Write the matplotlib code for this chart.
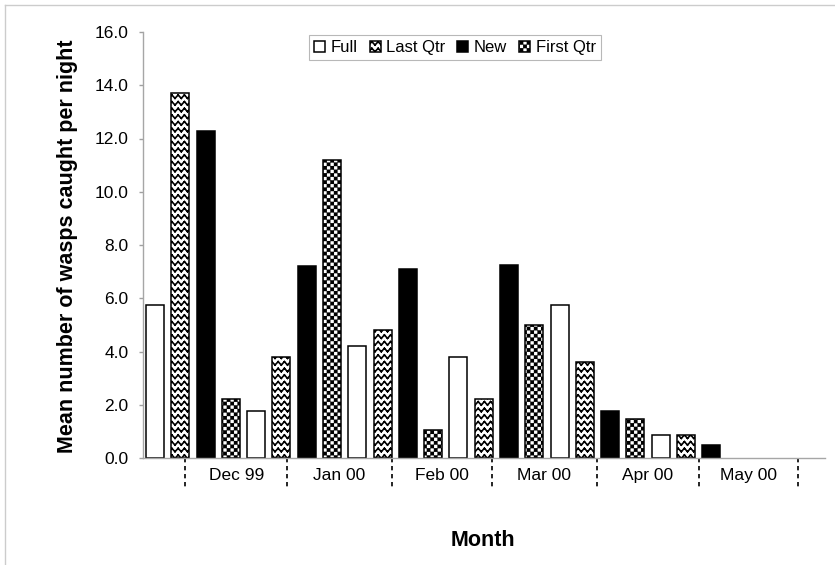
import warnings
warnings.filterwarnings('ignore')
import numpy as np
import matplotlib
matplotlib.use('Agg')
import matplotlib.pyplot as plt
import matplotlib.hatch as mhatch
import matplotlib.transforms as mtrans
from matplotlib.path import Path
from matplotlib.lines import Line2D

# ---------------- data ----------------
phases = ['Full', 'Last Qtr', 'New', 'First Qtr']
bar_phases = ['Full', 'Last Qtr', 'New', 'First Qtr',
              'Full', 'Last Qtr', 'New', 'First Qtr',
              'Full', 'Last Qtr', 'New', 'First Qtr',
              'Full', 'Last Qtr', 'New', 'First Qtr',
              'Full', 'Last Qtr', 'New', 'First Qtr',
              'Full', 'Last Qtr', 'New']
values = [5.75, 13.7, 12.3, 2.2,
          1.75, 3.8, 7.2, 11.2,
          4.2, 4.8, 7.1, 1.05,
          3.8, 2.2, 7.25, 5.0,
          5.75, 3.6, 1.75, 1.45,
          0.85, 0.85, 0.5]
months = ['Dec 99', 'Jan 00', 'Feb 00', 'Mar 00', 'Apr 00', 'May 00']
month_bounds = [1.2, 5.22, 9.36, 13.33, 17.48, 21.52, 25.45]
yticks = [0, 2, 4, 6, 8, 10, 12, 14, 16]


# ---------------- custom hatches ----------------
class ZigzagHatch(mhatch.HatchPatternBase):
    def __init__(self, hatch, density):
        c = hatch.count('z')
        self.rows = 15 * c
        self.cols = 16 * c
        self.num_vertices = self.rows * self.cols * 4

    def set_vertices_and_codes(self, vertices, codes):
        amp = 0.5 / self.rows
        verts = []
        for j in range(self.rows):
            y0 = (j + 0.25) / self.rows
            for i in range(self.cols):
                x0 = i / self.cols
                xm = (i + 0.5) / self.cols
                x1 = (i + 1) / self.cols
                verts += [(x0, y0), (xm, y0 + amp), (xm, y0 + amp), (x1, y0)]
        vertices[:] = np.array(verts)
        codes[0::2] = Path.MOVETO
        codes[1::2] = Path.LINETO


class SquareDotHatch(mhatch.HatchPatternBase):
    def __init__(self, hatch, density):
        c = hatch.count('q')
        self.n = 14 * c
        if c == 0:
            self.num_vertices = 0
        else:
            n = self.n
            self.num_vertices = ((n + 1) ** 2 + n * n) * 5

    def set_vertices_and_codes(self, vertices, codes):
        n = self.n
        h = 0.15 / n
        centers = [(i / n, j / n) for i in range(n + 1) for j in range(n + 1)]
        centers += [((i + .5) / n, (j + .5) / n) for i in range(n) for j in range(n)]
        verts = []
        for cx, cy in centers:
            verts += [(cx - h, cy - h), (cx + h, cy - h), (cx + h, cy + h),
                      (cx - h, cy + h), (cx - h, cy - h)]
        vertices[:] = np.array(verts)
        codes[0::5] = Path.MOVETO
        codes[1::5] = Path.LINETO
        codes[2::5] = Path.LINETO
        codes[3::5] = Path.LINETO
        codes[4::5] = Path.CLOSEPOLY


mhatch._hatch_types.append(ZigzagHatch)
mhatch._hatch_types.append(SquareDotHatch)

# ---------------- style ----------------
plt.rcParams['font.family'] = ['Liberation Sans', 'DejaVu Sans']
plt.rcParams['hatch.linewidth'] = 1.2
plt.rcParams['hatch.color'] = 'black'

styles = {
    'Full': dict(facecolor='white', hatch=None),
    'Last Qtr': dict(facecolor='white', hatch='z'),
    'New': dict(facecolor='black', hatch=None),
    'First Qtr': dict(facecolor='white', hatch='q'),
}

W, H = 835, 565
fig = plt.figure(figsize=(W / 100, H / 100), dpi=100)
ax = fig.add_axes([143 / W, (H - 458) / H, 682 / W, 426 / H])

x = np.arange(len(values))
vals = np.array(values)
bp = np.array(bar_phases)
handles = []
for p in phases:
    idx = np.where(bp == p)[0]
    b = ax.bar(x[idx], vals[idx], width=0.71, edgecolor='black', linewidth=1.1,
               label=p, **styles[p])
    handles.append(b)

ax.set_xlim(-0.475, 26.5)
ax.set_ylim(0, 16)
ax.set_yticks(yticks)
ax.set_yticklabels([f'{v:.1f}' for v in yticks])
ax.set_xticks([])
ax.tick_params(axis='y', length=3, width=1, color='#a0a0a0', labelsize=12.5,
               pad=7.5, labelcolor='black')
for s in ['top', 'right']:
    ax.spines[s].set_visible(False)
for s in ['left', 'bottom']:
    ax.spines[s].set_color('#a6a6a6')
    ax.spines[s].set_linewidth(1.0)

trans = mtrans.blended_transform_factory(ax.transData, ax.transAxes)
for bnd in month_bounds:
    ax.plot([bnd, bnd], [0, -0.075], transform=trans, clip_on=False,
            color='black', lw=1.2, ls=(0, (2.6, 2.2)))
for i, m in enumerate(months):
    mid = (month_bounds[i] + month_bounds[i + 1]) / 2
    ax.text(mid, -0.042, m, transform=trans, ha='center', va='center',
            fontsize=12.5)

leg = ax.legend(handles=handles, loc='center', bbox_to_anchor=(0.4575, 0.9636),
                ncol=4, fontsize=12, frameon=True, fancybox=False,
                edgecolor='#b8b8b8', framealpha=1, borderpad=0.3,
                handlelength=0.65, handleheight=0.65, handletextpad=0.35,
                columnspacing=0.7, borderaxespad=0)
leg.get_frame().set_linewidth(0.8)

fig.text(68 / W, 1 - 246.5 / H, 'Mean number of wasps caught per night',
         rotation=90, ha='center', va='center', fontsize=15.5, fontweight='bold')
fig.text(483 / W, 1 - 541 / H, 'Month', ha='center', va='center',
         fontsize=15.5, fontweight='bold')

# outer chart frame (top and left edges visible)
fig.add_artist(Line2D([5 / W, 1], [1 - 5 / H, 1 - 5 / H], transform=fig.transFigure,
                      color='#cccccc', lw=1))
fig.add_artist(Line2D([5 / W, 5 / W], [0, 1 - 5 / H], transform=fig.transFigure,
                      color='#cccccc', lw=1))

fig.savefig('out.png', dpi=100)
